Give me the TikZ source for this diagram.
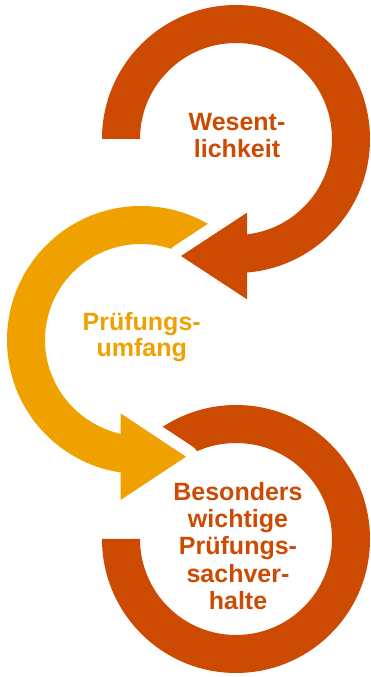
\documentclass[tikz,border=0pt]{standalone}
\usepackage{fontspec}
\setmainfont{Liberation Sans}
\usetikzlibrary{calc}
\definecolor{rust}{RGB}{205,74,2}
\definecolor{gold}{RGB}{239,161,0}
\newcommand\ringseg[4]{% color, center, start, end
  \fill[#1] ($(#2)+(#3:134pt)$) arc[start angle=#3, end angle=#4, radius=134pt]
    -- ($(#2)+(#4:96pt)$) arc[start angle=#4, end angle=#3, radius=96pt] -- cycle;}
\tikzset{
  lbl/.style={anchor=base, inner sep=0pt, font=\fontsize{25}{27}\selectfont\bfseries},
  gapcut/.style={fill=white, draw=white, line width=24pt, line join=round}
}
\begin{document}
\begin{tikzpicture}[x=1pt,y=1pt]
\useasboundingbox (0,0) rectangle (370,677);
\coordinate (T) at (236,538);
\coordinate (Y) at (141,337);
\coordinate (B) at (236,138);
% red arrowhead points
\coordinate (ra1) at (247,464.3);
\coordinate (ra2) at (247,377.7);
\coordinate (rtip) at (181,421);
% yellow arrowhead points
\coordinate (ya1) at (120.5,263.7);
\coordinate (ya2) at (120.5,177);
\coordinate (ytip) at (186,220.3);
% 1 yellow ring
\ringseg{gold}{Y}{45}{262}
% 2 gap around red arrowhead
\path[gapcut] (ra1) -- (rtip) -- (ra2) -- cycle;
% 3 top red ring with arrowhead
\ringseg{rust}{T}{180}{-86}
\fill[rust] (ra1) -- (rtip) -- (ra2) -- cycle;
% 4 bottom red ring
\ringseg{rust}{B}{180}{495}
% 5 gap around yellow arrowhead
\path[gapcut] (ya1) -- (ytip) -- (ya2) -- cycle;
% 6 yellow ring end and arrowhead
\ringseg{gold}{Y}{200}{262}
\fill[gold] (ya1) -- (ytip) -- (ya2) -- cycle;
% texts
\node[lbl, text=rust] (w1) at (237,546.3) {Wesent-};
\node[lbl, text=rust] (w2) at (237,519.7) {lichkeit};
\node[lbl, text=gold] (p1) at (141.7,346.3) {Prüfungs-};
\node[lbl, text=gold] (p2) at (141.7,320.3) {umfang};
\node[lbl, text=rust] (b1) at (238,176.3) {Besonders};
\node[lbl, text=rust] (b2) at (238,149.2) {wichtige};
\node[lbl, text=rust] (b3) at (238,122) {Prüfungs-};
\node[lbl, text=rust] (b4) at (238,94.9) {sachver-};
\node[lbl, text=rust] (b5) at (238,67.7) {halte};
\end{tikzpicture}
\end{document}
